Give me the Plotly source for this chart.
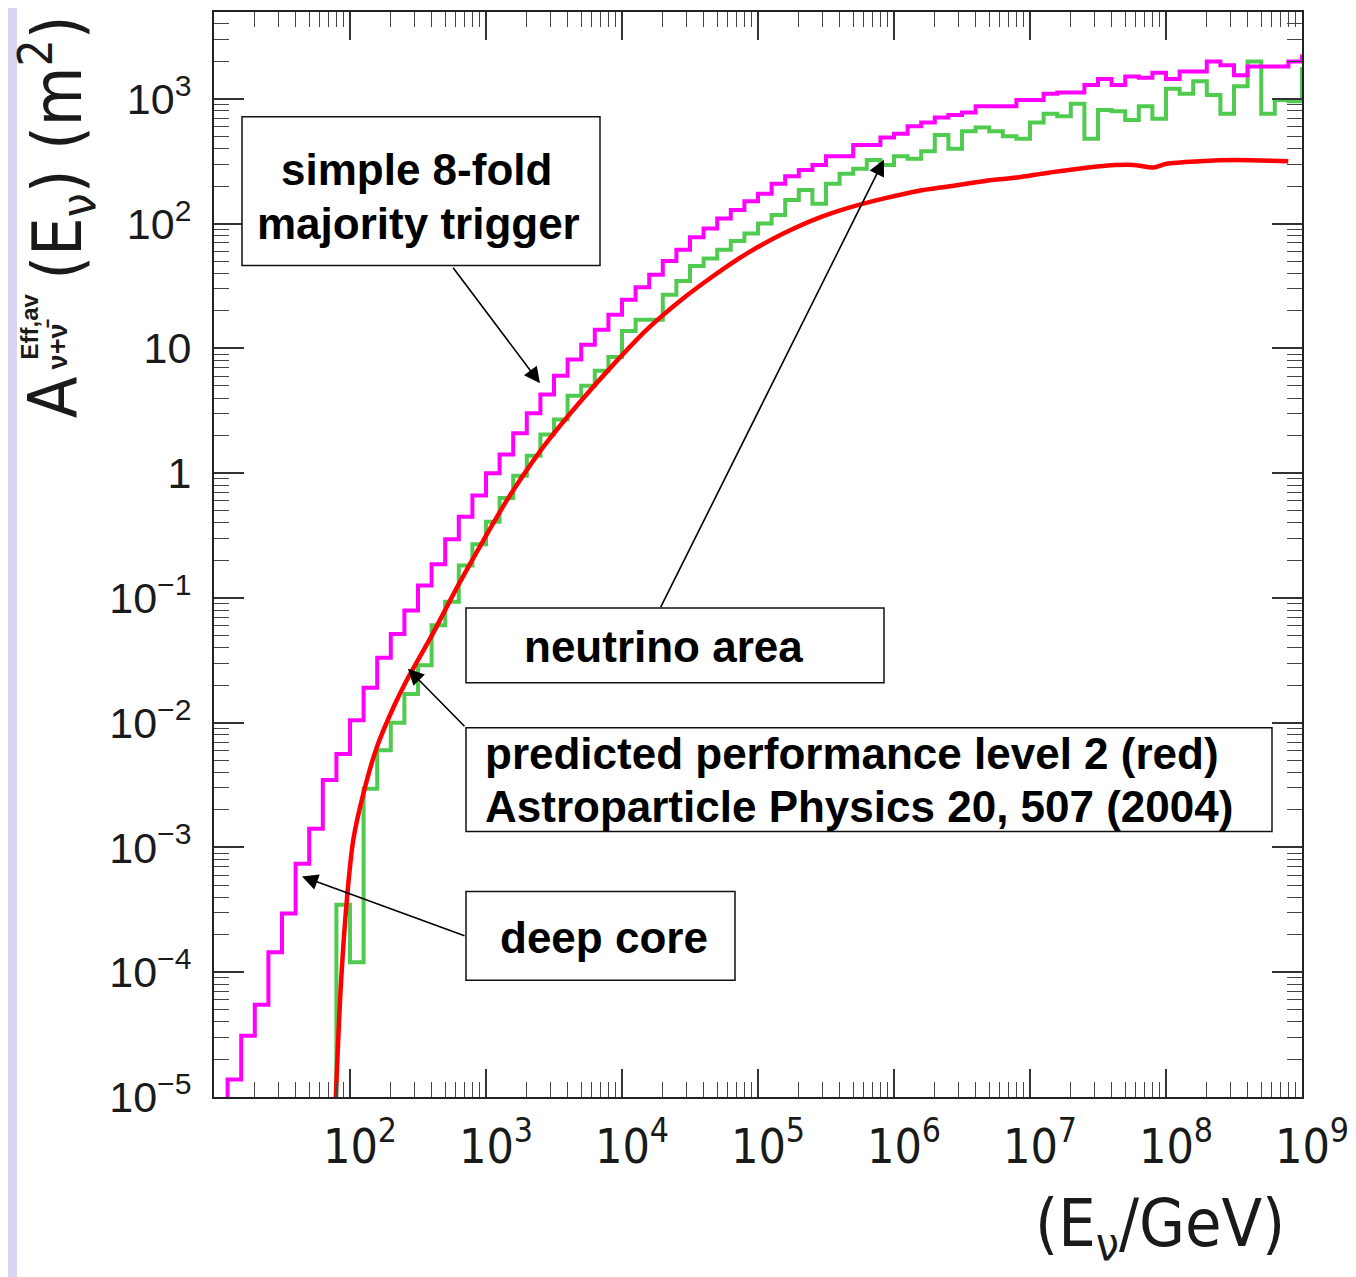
import numpy as np
import plotly.graph_objects as go

# ---------------- data ----------------
# histogram bins: lower edges in log10(E/GeV), 0.1 decade wide
bin_low_log10E = [round(1.0 + 0.1 * i, 1) for i in range(81)]   # 1.0 ... 9.0

# magenta: "simple 8-fold majority trigger" (deep core), log10(A / m^2); None = empty bin
trigger_log10A = [
    None, -4.86, -4.51, -4.26, -3.84, -3.53, -3.13, -2.85, -2.46, -2.25,   # 1.0-1.9
    -1.98, -1.72, -1.48, -1.29, -1.10, -0.90, -0.73, -0.53, -0.35, -0.18,  # 2.0-2.9
    0.00, 0.15, 0.32, 0.48, 0.63, 0.78, 0.91, 1.03, 1.15, 1.27,            # 3.0-3.9
    1.39, 1.49, 1.59, 1.70, 1.79, 1.89, 1.96, 2.04, 2.11, 2.18,            # 4.0-4.9
    2.24, 2.32, 2.38, 2.43, 2.47, 2.54, 2.54, 2.63, 2.63, 2.69,            # 5.0-5.9
    2.72, 2.78, 2.81, 2.85, 2.87, 2.89, 2.94, 2.94, 2.94, 2.99,            # 6.0-6.9
    2.99, 3.04, 3.05, 3.05, 3.11, 3.16, 3.11, 3.18, 3.17, 3.21,            # 7.0-7.9
    3.16, 3.22, 3.22, 3.30, 3.27, 3.19, 3.26, 3.26, 3.26, 3.30,            # 8.0-8.9
    3.34,                                                                  # 9.0
]

# green: "neutrino area" histogram, log10(A / m^2); None = empty bin
neutrino_log10A = [
    None, None, None, None, None, None, None, None, None, -3.46,           # 1.0-1.9
    -3.92, -2.53, -2.22, -2.00, -1.77, -1.54, -1.22, -1.03, -0.74, -0.57,  # 2.0-2.9
    -0.39, -0.20, -0.02, 0.14, 0.31, 0.43, 0.62, 0.70, 0.82, 0.93,         # 3.0-3.9
    1.14, 1.23, 1.23, 1.43, 1.54, 1.66, 1.72, 1.79, 1.86, 1.92,            # 4.0-4.9
    2.00, 2.07, 2.19, 2.27, 2.16, 2.32, 2.40, 2.44, 2.51, 2.47,            # 5.0-5.9
    2.54, 2.52, 2.58, 2.71, 2.60, 2.74, 2.77, 2.74, 2.70, 2.68,            # 6.0-6.9
    2.81, 2.88, 2.86, 2.96, 2.68, 2.91, 2.90, 2.83, 2.94, 2.84,            # 7.0-7.9
    3.08, 3.04, 3.14, 3.03, 2.88, 3.10, 3.30, 2.88, 2.99, 2.98,            # 8.0-8.9
    3.24,                                                                  # 9.0
]

# red: predicted performance level 2 (smooth curve), log10(E/GeV) vs log10(A / m^2)
level2_log10E = [1.895, 1.932, 1.977, 2.024, 2.098, 2.196, 2.318, 2.417, 2.612,
                 2.785, 2.980, 3.152, 3.348, 3.471, 3.691, 3.936, 4.182, 4.426,
                 4.671, 4.917, 5.186, 5.432, 5.676, 5.921, 6.167, 6.412, 6.657,
                 6.902, 7.147, 7.515, 7.760, 7.907, 8.005, 8.250, 8.495, 8.899]
level2_log10A = [-5.02, -4.12, -3.42, -2.94, -2.57, -2.20, -1.88, -1.66, -1.28,
                 -0.92, -0.54, -0.22, 0.10, 0.28, 0.57, 0.87, 1.15, 1.38,
                 1.58, 1.76, 1.92, 2.04, 2.13, 2.20, 2.26, 2.30, 2.34,
                 2.37, 2.41, 2.46, 2.47, 2.45, 2.48, 2.50, 2.51, 2.50]

x_tick_exp = [1, 2, 3, 4, 5, 6, 7, 8, 9]
x_tick_text = ["", "10<sup>2</sup>", "10<sup>3</sup>", "10<sup>4</sup>", "10<sup>5</sup>",
               "10<sup>6</sup>", "10<sup>7</sup>", "10<sup>8</sup>", "10<sup>9</sup>"]
y_tick_exp = [-5, -4, -3, -2, -1, 0, 1, 2, 3]
y_tick_text = ["10<sup>\u22125</sup>", "10<sup>\u22124</sup>", "10<sup>\u22123</sup>",
               "10<sup>\u22122</sup>", "10<sup>\u22121</sup>", "1", "10",
               "10<sup>2</sup>", "10<sup>3</sup>"]

# ---------------- figure ----------------
PAGE_OFF = 8                      # the page body adds an 8 px margin
W, H = 1356 - PAGE_OFF, 1277 - PAGE_OFF
ML, MR, MT, MB = 206, 54, 2, 180
PW, PH = W - ML - MR, H - MT - MB


def px(xp):  # page pixel -> paper
    return (xp - PAGE_OFF - ML) / PW


def py(yp):
    return (PAGE_OFF + MT + PH - yp) / PH


def hist_xy(log_edges, log_vals):
    lo = np.array(log_edges, dtype=float)
    v = np.array([np.nan if a is None else a for a in log_vals], dtype=float)
    # empty bins are drawn at a level far below the axis floor (as in ROOT)
    v = np.where(np.isnan(v), -12.0, v)
    x = np.append(10 ** lo, 10 ** (lo[-1] + 0.1))
    y = np.append(10 ** v, 10 ** v[-1])
    return x, y


fig = go.Figure()

xg, yg = hist_xy(bin_low_log10E, neutrino_log10A)
fig.add_trace(go.Scatter(x=xg, y=yg, mode="lines", line=dict(color="#4fcb4f", width=4, shape="hv"),
                         name="neutrino area", showlegend=False))

xm, ym = hist_xy(bin_low_log10E, trigger_log10A)
fig.add_trace(go.Scatter(x=xm, y=ym, mode="lines", line=dict(color="#ff00ff", width=4, shape="hv"),
                         name="simple 8-fold majority trigger", showlegend=False))

fig.add_trace(go.Scatter(x=10 ** np.array(level2_log10E), y=10 ** np.array(level2_log10A),
                         mode="lines", line=dict(color="#ff0000", width=4.5, shape="spline", smoothing=0.8),
                         name="predicted performance level 2", showlegend=False))

minor_x = [k * 10 ** d for d in range(1, 9) for k in range(2, 10)]
minor_y = [k * 10.0 ** d for d in range(-5, 4) for k in range(2, 10)]

narrow = "Liberation Sans Narrow, DejaVu Sans Condensed, Arial Narrow, sans-serif"
tick_font_y = dict(family="Liberation Sans, Arial, sans-serif", size=43, color="#1a1a1a")
tick_font_x = dict(family=narrow, size=48, color="#1a1a1a")

fig.update_xaxes(type="log", range=[1, 9], showgrid=False, zeroline=False,
                 showline=True, linecolor="#222", linewidth=2, mirror="ticks",
                 ticks="inside", ticklen=28, tickwidth=1.5, tickcolor="#333",
                 tickmode="array", tickvals=[10 ** e for e in x_tick_exp], ticktext=x_tick_text,
                 tickfont=tick_font_x, ticklabelshift=10, ticklabelstandoff=6,
                 minor=dict(ticks="inside", ticklen=15, tickwidth=1.2, tickcolor="#444",
                            tickmode="array", tickvals=minor_x, showgrid=False))
fig.update_yaxes(type="log", range=[-5, 3.696], showgrid=False, zeroline=False,
                 showline=True, linecolor="#222", linewidth=2, mirror="ticks",
                 ticks="inside", ticklen=30, tickwidth=1.5, tickcolor="#333",
                 tickmode="array", tickvals=[10.0 ** e for e in y_tick_exp], ticktext=y_tick_text,
                 tickfont=tick_font_y, ticklabelstandoff=12,
                 minor=dict(ticks="inside", ticklen=15, tickwidth=1.2, tickcolor="#444",
                            tickmode="array", tickvals=minor_y, showgrid=False))

shapes = []
# lavender strip on the left edge of the slide
shapes.append(dict(type="rect", xref="paper", yref="paper", x0=px(0), x1=px(17), y0=py(1290), y1=py(-10),
                   fillcolor="#d7d7f1", line=dict(width=0), layer="below"))
# label boxes (page pixel corners)
boxes = [(242, 115, 600, 264), (466, 607, 884, 682), (466, 727, 1272, 831), (466, 891, 735, 980)]
for (x0, y0, x1, y1) in boxes:
    shapes.append(dict(type="rect", xref="paper", yref="paper", x0=px(x0), x1=px(x1), y0=py(y1), y1=py(y0),
                       fillcolor="white", line=dict(color="#111", width=1.5), layer="above"))

ann = []
box_font = dict(family="Liberation Sans, Arial, sans-serif", size=44, color="black")
text_items = [
    ("<b>simple 8-fold</b>", 416, 168, "center"),
    ("<b>majority trigger</b>", 418, 222, "center"),
    ("<b>neutrino area</b>", 663, 646, "center"),
    ("<b>predicted performance level 2 (red)</b>", 483, 753, "left"),
    ("<b>Astroparticle Physics 20, 507 (2004)</b>", 483, 806, "left"),
    ("<b>deep core</b>", 604, 937, "center"),
]
for t, xc, yc, anc in text_items:
    ann.append(dict(text=t, xref="paper", yref="paper", x=px(xc), y=py(yc), xanchor=anc, yanchor="middle",
                    showarrow=False, font=box_font))

# arrows: head at a point of the curve (data coords), tail offset in pixels
arrows = [
    (3.397, 0.72, -88, -117),     # simple 8-fold majority trigger -> magenta
    (5.926, 2.512, -224, 449),    # neutrino area -> green
    (2.426, -1.568, 58, 59),      # predicted performance -> red
    (1.647, -3.232, 164, 60),     # deep core -> magenta
]
for (lx, ly, ax, ay) in arrows:
    ann.append(dict(x=lx, y=ly, xref="x", yref="y", ax=ax, ay=ay, text="", showarrow=True,
                    arrowhead=2, arrowsize=2.0, arrowwidth=1.6, arrowcolor="black", standoff=0))

# axis titles
ann.append(dict(text="A", xref="paper", yref="paper", x=px(53), y=py(396), textangle=-90,
                showarrow=False, xanchor="center", yanchor="middle",
                font=dict(family=narrow, size=68, color="#1a1a1a")))
ann.append(dict(text="<b>Eff,av</b>", xref="paper", yref="paper", x=px(29), y=py(325), textangle=-90,
                showarrow=False, xanchor="center", yanchor="middle",
                font=dict(family="Liberation Sans, Arial, sans-serif", size=24, color="#1a1a1a")))
ann.append(dict(text="<b>\u03bd+\u03bd\u0304</b>", xref="paper", yref="paper", x=px(58), y=py(343), textangle=-90,
                showarrow=False, xanchor="center", yanchor="middle",
                font=dict(family="Liberation Sans, Arial, sans-serif", size=27, color="#1a1a1a")))
ann.append(dict(text="(E<sub>\u03bd</sub>) (m<sup>2</sup>)", xref="paper", yref="paper", x=px(57), y=py(146),
                textangle=-90, showarrow=False, xanchor="center", yanchor="middle",
                font=dict(family=narrow, size=68, color="#1a1a1a")))
ann.append(dict(text="(E<sub>\u03bd</sub>/GeV)", xref="paper", yref="paper", x=px(1160), y=py(1228),
                showarrow=False, xanchor="center", yanchor="middle",
                font=dict(family=narrow, size=66, color="#1a1a1a")))

fig.update_layout(width=W, height=H, margin=dict(l=ML, r=MR, t=MT, b=MB),
                  paper_bgcolor="white", plot_bgcolor="white", showlegend=False,
                  shapes=shapes, annotations=ann)

fig.write_html("out.html")
